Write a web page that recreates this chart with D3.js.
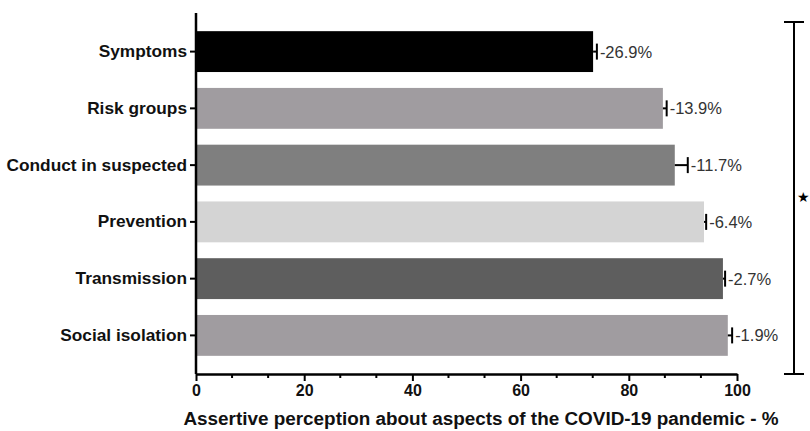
<!DOCTYPE html>
<html>
<head>
<meta charset="utf-8">
<script src="https://cdn.jsdelivr.net/npm/d3@7"></script>
<style>
  body { margin: 0; background: #fff; }
  text { font-family: "Liberation Sans", Arial, sans-serif; }
</style>
</head>
<body>
<div id="chart"></div>
<script>
// Data
const categories = ['Symptoms', 'Risk groups', 'Conduct in suspected', 'Prevention', 'Transmission', 'Social isolation']
const values = [73.4, 86.3, 88.5, 93.9, 97.4, 98.3]
const errors = [0.7, 0.7, 2.4, 0.4, 0.4, 0.8]
const diffLabels = ['-26.9%', '-13.9%', '-11.7%', '-6.4%', '-2.7%', '-1.9%']
const barColors = ['#000000', '#a09ca0', '#7f7f7f', '#d4d4d4', '#5e5e5e', '#a09ca0']
const majorTicks = [0, 20, 40, 60, 80, 100]

const width = 810
const height = 431

const svg = d3.select('#chart')
  .append('svg')
  .attr('width', width)
  .attr('height', height)

const x = d3.scaleLinear().domain([0, 100]).range([196, 737])
const y = d3.scaleBand().domain(categories).range([13, 374])
  .paddingInner(0.28).paddingOuter(0.32)

// Bars
svg.selectAll('rect.bar')
  .data(categories)
  .enter().append('rect')
  .attr('class', 'bar')
  .attr('x', x(0))
  .attr('y', d => y(d))
  .attr('width', (d, i) => x(values[i]) - x(0))
  .attr('height', y.bandwidth())
  .attr('fill', (d, i) => barColors[i])

// Error bars (positive side only)
const err = svg.append('g')
categories.forEach((c, i) => {
  const cy = y(c) + y.bandwidth() / 2
  const xe = x(values[i] + errors[i])
  err.append('line')
    .attr('x1', x(values[i])).attr('x2', xe)
    .attr('y1', cy).attr('y2', cy)
    .attr('stroke', '#000').attr('stroke-width', 2)
  err.append('line')
    .attr('x1', xe).attr('x2', xe)
    .attr('y1', cy - 8).attr('y2', cy + 8)
    .attr('stroke', '#000').attr('stroke-width', 2)
  svg.append('text')
    .attr('x', xe + 3)
    .attr('y', cy + 6)
    .attr('font-size', 16.5)
    .attr('fill', '#333')
    .text(diffLabels[i])
})

// Y axis
const yAxis = svg.append('g')
  .attr('transform', `translate(${x(0)},0)`)
  .call(d3.axisLeft(y).tickSize(6).tickPadding(3).tickSizeOuter(0))
yAxis.select('.domain').attr('stroke-width', 2.5).attr('d', `M0,13V374`)
yAxis.selectAll('.tick line').attr('stroke-width', 2)
yAxis.selectAll('.tick text')
  .attr('font-size', 17.3).attr('font-weight', 'bold').attr('fill', '#111')
  .attr('font-family', '"Liberation Sans", Arial, sans-serif')

// X axis: minor ticks every 20/3
const minorTicks = d3.range(0, 16).map(k => k * 100 / 15).filter((v, k) => k % 3 !== 0)
const xg = svg.append('g').attr('transform', 'translate(0,374)')
xg.selectAll('line.minor')
  .data(minorTicks)
  .enter().append('line')
  .attr('x1', d => x(d)).attr('x2', d => x(d))
  .attr('y1', 0).attr('y2', 4)
  .attr('stroke', '#000').attr('stroke-width', 2)
const xAxis = xg.call(d3.axisBottom(x).tickValues(majorTicks).tickSize(7).tickPadding(4).tickSizeOuter(0))
xAxis.select('.domain').attr('stroke-width', 2.5)
xAxis.selectAll('.tick line').attr('stroke-width', 2)
xAxis.selectAll('.tick text')
  .attr('font-size', 16).attr('font-weight', 'bold').attr('fill', '#111')
  .attr('font-family', '"Liberation Sans", Arial, sans-serif')

// X axis title
svg.append('text')
  .attr('x', 481)
  .attr('y', 425)
  .attr('text-anchor', 'middle')
  .attr('font-size', 18.9)
  .attr('font-weight', 'bold')
  .attr('fill', '#111')
  .text('Assertive perception about aspects of the COVID-19 pandemic - %')

// Significance bracket
const bx = 794
const br = svg.append('g').attr('stroke', '#000').attr('stroke-width', 2)
br.append('line').attr('x1', bx).attr('x2', bx).attr('y1', 22).attr('y2', 374)
br.append('line').attr('x1', bx - 10).attr('x2', bx + 10).attr('y1', 22).attr('y2', 22)
br.append('line').attr('x1', bx - 10).attr('x2', bx + 10).attr('y1', 374).attr('y2', 374)
svg.append('text')
  .attr('x', 797)
  .attr('y', 202)
  .attr('font-size', 14)
  .text('★')
</script>
</body>
</html>
